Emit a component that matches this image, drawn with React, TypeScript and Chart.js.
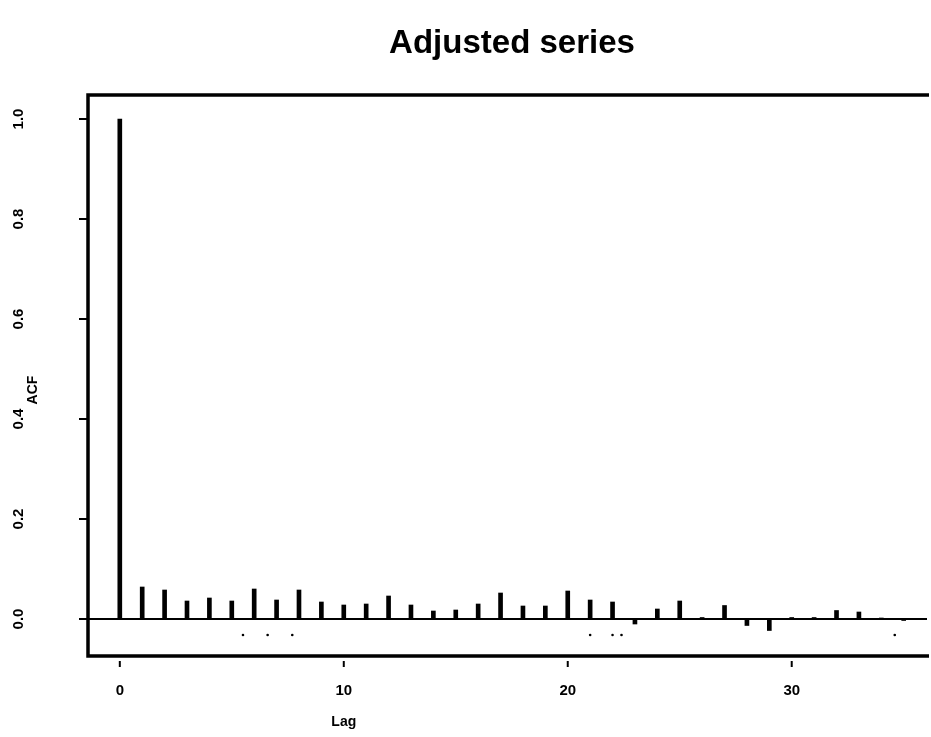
import { useEffect, useRef } from 'react';
import { Chart, registerables } from 'chart.js';

Chart.register(...registerables);

const titleText = 'Adjusted series';
const xAxisTitle = 'Lag';
const yAxisTitle = 'ACF';

const lags = [0, 1, 2, 3, 4, 5, 6, 7, 8, 9, 10, 11, 12, 13, 14, 15, 16, 17, 18, 19, 20, 21, 22, 23, 24, 25, 26, 27, 28, 29, 30, 31, 32, 33, 34, 35];
const acfValues = [1.0, 0.064, 0.058, 0.036, 0.042, 0.036, 0.06, 0.038, 0.058, 0.034, 0.028, 0.03, 0.046, 0.028, 0.016, 0.018, 0.03, 0.052, 0.026, 0.026, 0.056, 0.038, 0.034, -0.01, 0.02, 0.036, 0.003, 0.027, -0.013, -0.023, 0.003, 0.003, 0.017, 0.014, 0.002, -0.003];

const ciDotLags = [5.5, 6.6, 7.7, 21.0, 22.0, 22.4, 34.6];
const ciValue = -0.032;

const xTicks = [0, 10, 20, 30];
const yTicks = [0.0, 0.2, 0.4, 0.6, 0.8, 1.0];
const yTickLabels = ['0.0', '0.2', '0.4', '0.6', '0.8', '1.0'];

const xMin = -1.42;
const xMax = 36.04;
const yMin = -0.074;
const yMax = 1.048;

const decorPlugin = {
  id: 'decor',
  afterDatasetsDraw(chart: any) {
    const { ctx, chartArea } = chart;
    const xs = chart.scales.x;
    const ys = chart.scales.y;
    const { left, right, top, bottom } = chartArea;
    ctx.save();
    ctx.strokeStyle = '#000';
    ctx.fillStyle = '#000';

    // frame (left, top, bottom)
    ctx.lineWidth = 3.5;
    ctx.beginPath();
    ctx.moveTo(right + 2, top);
    ctx.lineTo(left, top);
    ctx.lineTo(left, bottom);
    ctx.lineTo(right + 2, bottom);
    ctx.stroke();

    // zero line
    const y0 = ys.getPixelForValue(0);
    ctx.lineWidth = 2;
    ctx.beginPath();
    ctx.moveTo(left, y0);
    ctx.lineTo(right, y0);
    ctx.stroke();

    // y ticks
    ctx.lineWidth = 2;
    ctx.font = 'bold 15px "Liberation Sans", Arial, sans-serif';
    yTicks.forEach((v, i) => {
      const py = ys.getPixelForValue(v);
      ctx.beginPath();
      ctx.moveTo(left - 9, py);
      ctx.lineTo(left, py);
      ctx.stroke();
      ctx.save();
      ctx.translate(19, py);
      ctx.rotate(-Math.PI / 2);
      ctx.textAlign = 'center';
      ctx.textBaseline = 'middle';
      ctx.fillText(yTickLabels[i], 0, 0);
      ctx.restore();
    });

    // x ticks
    xTicks.forEach((v) => {
      const px = xs.getPixelForValue(v);
      ctx.beginPath();
      ctx.moveTo(px, bottom + 5);
      ctx.lineTo(px, bottom + 11);
      ctx.stroke();
      ctx.textAlign = 'center';
      ctx.textBaseline = 'middle';
      ctx.fillText(String(v), px, 691);
    });

    // axis titles
    ctx.font = 'bold 14px "Liberation Sans", Arial, sans-serif';
    ctx.textAlign = 'center';
    ctx.textBaseline = 'middle';
    ctx.fillText(xAxisTitle, xs.getPixelForValue(10), 722);
    ctx.save();
    ctx.translate(33, 390);
    ctx.rotate(-Math.PI / 2);
    ctx.fillText(yAxisTitle, 0, 0);
    ctx.restore();

    // title
    ctx.font = 'bold 33px "Liberation Sans", Arial, sans-serif';
    ctx.fillText(titleText, 512, 44);
    ctx.restore();
  },
};

export default function App() {
  const ref = useRef<HTMLCanvasElement | null>(null);
  useEffect(() => {
    if (!ref.current) return;
    const chart = new Chart(ref.current, {
      type: 'bar',
      data: {
        datasets: [
          {
            type: 'bar',
            data: lags.map((l, i) => ({ x: l, y: acfValues[i] })),
            backgroundColor: '#000',
            borderWidth: 0,
            barThickness: 4,
          } as any,
          {
            type: 'scatter',
            data: ciDotLags.map((l) => ({ x: l, y: ciValue })),
            backgroundColor: '#000',
            borderWidth: 0,
            pointRadius: 1.3,
          } as any,
        ],
      },
      options: {
        responsive: false,
        animation: false,
        events: [],
        layout: { padding: { left: 88, right: 0, top: 95, bottom: 81 } },
        plugins: { legend: { display: false }, tooltip: { enabled: false }, title: { display: false } },
        scales: {
          x: { type: 'linear', min: xMin, max: xMax, offset: false, display: false },
          y: { type: 'linear', min: yMin, max: yMax, display: false },
        },
      },
      plugins: [decorPlugin],
    });
    return () => chart.destroy();
  }, []);
  return (
    <div style={{ position: 'fixed', left: 0, top: 0, width: 931, height: 737, background: '#fff' }}>
      <canvas ref={ref} width={931} height={737} style={{ width: 931, height: 737 }} />
    </div>
  );
}
